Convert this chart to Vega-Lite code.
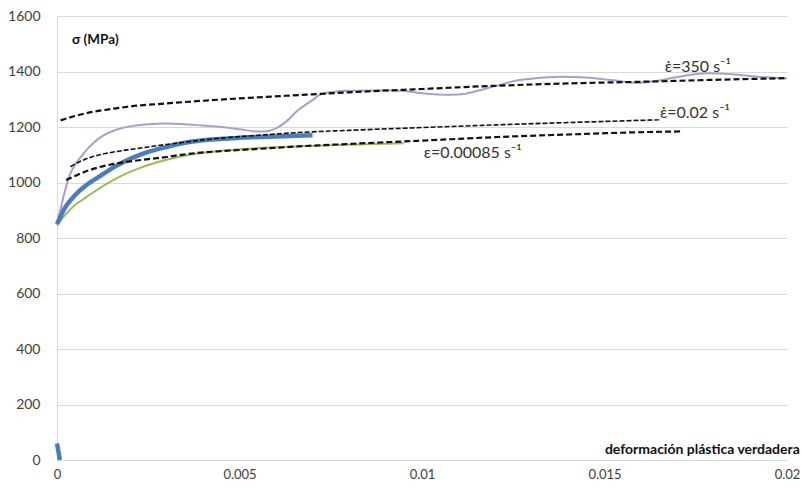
{
  "$schema": "https://vega.github.io/schema/vega-lite/v6.json",
  "width": 730,
  "height": 444,
  "autosize": "none",
  "padding": {"left": 57, "top": 16, "right": 15, "bottom": 29},
  "background": "white",
  "config": {
    "view": {"stroke": null},
    "font": "Lato",
    "axis": {"labelFont": "Lato", "labelColor": "#404040", "labelFontSize": 14, "ticks": false, "title": null}
  },
  "datasets": {
    "curves": [
      {"s": "blue0", "x": 0, "y": 60}, {"s": "blue0", "x": 0.00008, "y": 0},
      {"s": "blue", "x": 0, "y": 850}, {"s": "blue", "x": 0.0002, "y": 905}, {"s": "blue", "x": 0.0005, "y": 955}, {"s": "blue", "x": 0.0008, "y": 990}, {"s": "blue", "x": 0.0012, "y": 1025}, {"s": "blue", "x": 0.0016, "y": 1058}, {"s": "blue", "x": 0.002, "y": 1085}, {"s": "blue", "x": 0.0025, "y": 1110}, {"s": "blue", "x": 0.003, "y": 1128}, {"s": "blue", "x": 0.0035, "y": 1143}, {"s": "blue", "x": 0.004, "y": 1152}, {"s": "blue", "x": 0.005, "y": 1161}, {"s": "blue", "x": 0.006, "y": 1166}, {"s": "blue", "x": 0.007, "y": 1170},
      {"s": "green", "x": 0, "y": 845}, {"s": "green", "x": 0.0002, "y": 880}, {"s": "green", "x": 0.0005, "y": 920}, {"s": "green", "x": 0.0007, "y": 938}, {"s": "green", "x": 0.001, "y": 965}, {"s": "green", "x": 0.0016, "y": 1013}, {"s": "green", "x": 0.002, "y": 1038}, {"s": "green", "x": 0.0025, "y": 1063}, {"s": "green", "x": 0.003, "y": 1082}, {"s": "green", "x": 0.0036, "y": 1099}, {"s": "green", "x": 0.0045, "y": 1114}, {"s": "green", "x": 0.0055, "y": 1124}, {"s": "green", "x": 0.0065, "y": 1130}, {"s": "green", "x": 0.0075, "y": 1134}, {"s": "green", "x": 0.0085, "y": 1138}, {"s": "green", "x": 0.0095, "y": 1141},
      {"s": "purple", "x": 0, "y": 852}, {"s": "purple", "x": 0.0001, "y": 905}, {"s": "purple", "x": 0.0002, "y": 960}, {"s": "purple", "x": 0.00033, "y": 1021}, {"s": "purple", "x": 0.0005, "y": 1065}, {"s": "purple", "x": 0.0007, "y": 1100}, {"s": "purple", "x": 0.0009, "y": 1130}, {"s": "purple", "x": 0.00115, "y": 1159}, {"s": "purple", "x": 0.0016, "y": 1189}, {"s": "purple", "x": 0.002, "y": 1202}, {"s": "purple", "x": 0.0025, "y": 1210}, {"s": "purple", "x": 0.003, "y": 1213}, {"s": "purple", "x": 0.0035, "y": 1210}, {"s": "purple", "x": 0.004, "y": 1205}, {"s": "purple", "x": 0.0045, "y": 1200}, {"s": "purple", "x": 0.005, "y": 1192}, {"s": "purple", "x": 0.0055, "y": 1184}, {"s": "purple", "x": 0.0058, "y": 1186}, {"s": "purple", "x": 0.006, "y": 1195}, {"s": "purple", "x": 0.0063, "y": 1222}, {"s": "purple", "x": 0.0066, "y": 1260}, {"s": "purple", "x": 0.007, "y": 1297}, {"s": "purple", "x": 0.0072, "y": 1316}, {"s": "purple", "x": 0.0076, "y": 1327}, {"s": "purple", "x": 0.008, "y": 1331}, {"s": "purple", "x": 0.009, "y": 1332}, {"s": "purple", "x": 0.0095, "y": 1330}, {"s": "purple", "x": 0.01, "y": 1322}, {"s": "purple", "x": 0.0108, "y": 1316}, {"s": "purple", "x": 0.0112, "y": 1320}, {"s": "purple", "x": 0.0116, "y": 1333}, {"s": "purple", "x": 0.0121, "y": 1350}, {"s": "purple", "x": 0.0125, "y": 1365}, {"s": "purple", "x": 0.013, "y": 1374}, {"s": "purple", "x": 0.0138, "y": 1381}, {"s": "purple", "x": 0.0145, "y": 1378}, {"s": "purple", "x": 0.0152, "y": 1369}, {"s": "purple", "x": 0.0159, "y": 1359}, {"s": "purple", "x": 0.0165, "y": 1368}, {"s": "purple", "x": 0.0172, "y": 1385}, {"s": "purple", "x": 0.0178, "y": 1394}, {"s": "purple", "x": 0.0185, "y": 1390}, {"s": "purple", "x": 0.0192, "y": 1381}, {"s": "purple", "x": 0.02, "y": 1375},
      {"s": "d350", "x": 0.0001, "y": 1224}, {"s": "d350", "x": 0.0005, "y": 1240}, {"s": "d350", "x": 0.001, "y": 1255}, {"s": "d350", "x": 0.0015, "y": 1265}, {"s": "d350", "x": 0.002, "y": 1274}, {"s": "d350", "x": 0.003, "y": 1285}, {"s": "d350", "x": 0.0036, "y": 1291}, {"s": "d350", "x": 0.005, "y": 1303}, {"s": "d350", "x": 0.0066, "y": 1315}, {"s": "d350", "x": 0.008, "y": 1325}, {"s": "d350", "x": 0.01, "y": 1337}, {"s": "d350", "x": 0.0121, "y": 1349}, {"s": "d350", "x": 0.014, "y": 1357}, {"s": "d350", "x": 0.016, "y": 1363}, {"s": "d350", "x": 0.018, "y": 1370}, {"s": "d350", "x": 0.02, "y": 1376},
      {"s": "d002", "x": 0.00037, "y": 1057}, {"s": "d002", "x": 0.0007, "y": 1080}, {"s": "d002", "x": 0.00115, "y": 1099}, {"s": "d002", "x": 0.0016, "y": 1111}, {"s": "d002", "x": 0.00206, "y": 1120}, {"s": "d002", "x": 0.003, "y": 1137}, {"s": "d002", "x": 0.0036, "y": 1147}, {"s": "d002", "x": 0.0045, "y": 1160}, {"s": "d002", "x": 0.0055, "y": 1170}, {"s": "d002", "x": 0.0066, "y": 1180}, {"s": "d002", "x": 0.008, "y": 1188}, {"s": "d002", "x": 0.01, "y": 1198}, {"s": "d002", "x": 0.0121, "y": 1208}, {"s": "d002", "x": 0.014, "y": 1216}, {"s": "d002", "x": 0.0165, "y": 1226},
      {"s": "d00085", "x": 0.00025, "y": 1009}, {"s": "d00085", "x": 0.0006, "y": 1030}, {"s": "d00085", "x": 0.00115, "y": 1055}, {"s": "d00085", "x": 0.0016, "y": 1068}, {"s": "d00085", "x": 0.00206, "y": 1077}, {"s": "d00085", "x": 0.003, "y": 1092}, {"s": "d00085", "x": 0.0036, "y": 1103}, {"s": "d00085", "x": 0.0045, "y": 1113}, {"s": "d00085", "x": 0.0055, "y": 1121}, {"s": "d00085", "x": 0.0066, "y": 1130}, {"s": "d00085", "x": 0.008, "y": 1139}, {"s": "d00085", "x": 0.01, "y": 1151}, {"s": "d00085", "x": 0.0121, "y": 1164}, {"s": "d00085", "x": 0.014, "y": 1173}, {"s": "d00085", "x": 0.0162, "y": 1182}, {"s": "d00085", "x": 0.0171, "y": 1184}
    ],
    "rates": [
      {"t": "ε̇=350 s⁻¹", "x": 0.01665, "y": 1418},
      {"t": "ε̇=0.02 s⁻¹", "x": 0.01652, "y": 1252},
      {"t": "ε=0.00085 s⁻¹", "x": 0.01005, "y": 1106}
    ],
    "ytitle": [{"t": "σ (MPa)", "x": 0.00041, "y": 1514}],
    "xtitle": [{"t": "deformación plástica verdadera", "x": 0.02035, "y": 36}]
  },
  "encoding": {
    "x": {"field": "x", "type": "quantitative", "scale": {"domain": [0, 0.02], "nice": false, "zero": false},
      "axis": {"values": [0, 0.005, 0.01, 0.015, 0.02], "format": "~g", "grid": false, "domain": false, "labelPadding": 8, "labelFlush": false, "labelFontSize": 13}},
    "y": {"field": "y", "type": "quantitative", "scale": {"domain": [0, 1600], "nice": false},
      "axis": {"values": [0, 200, 400, 600, 800, 1000, 1200, 1400, 1600], "format": "d", "grid": true, "gridColor": "#d9d9d9", "gridWidth": 1, "domain": true, "domainColor": "#d9d9d9", "labelPadding": 17}}
  },
  "layer": [
    {
      "data": {"name": "curves"},
      "transform": [{"filter": "datum.s === 'green'"}],
      "mark": {"type": "line", "interpolate": "monotone", "color": "#9BBB59", "strokeWidth": 2}
    },
    {
      "data": {"name": "curves"},
      "transform": [{"filter": "datum.s === 'purple'"}],
      "mark": {"type": "line", "interpolate": "monotone", "color": "#A8A0C8", "strokeWidth": 2}
    },
    {
      "data": {"name": "curves"},
      "transform": [{"filter": "datum.s === 'blue' || datum.s === 'blue0'"}],
      "mark": {"type": "line", "interpolate": "monotone", "color": "#4A7DBA", "strokeWidth": 4.5},
      "encoding": {"detail": {"field": "s"}}
    },
    {
      "data": {"name": "curves"},
      "transform": [{"filter": "datum.s === 'd350' || datum.s === 'd00085'"}],
      "mark": {"type": "line", "interpolate": "monotone", "color": "#111111", "strokeWidth": 2.2, "strokeDash": [6, 3]},
      "encoding": {"detail": {"field": "s"}}
    },
    {
      "data": {"name": "curves"},
      "transform": [{"filter": "datum.s === 'd002'"}],
      "mark": {"type": "line", "interpolate": "monotone", "color": "#111111", "strokeWidth": 1.6, "strokeDash": [5, 2]}
    },
    {
      "data": {"name": "rates"},
      "mark": {"type": "text", "align": "left", "baseline": "middle", "color": "#333333", "font": "Lato", "fontSize": 16},
      "encoding": {"text": {"field": "t"}}
    },
    {
      "data": {"name": "ytitle"},
      "mark": {"type": "text", "align": "left", "baseline": "middle", "color": "#111111", "font": "Lato", "fontSize": 13.5, "fontWeight": "bold"},
      "encoding": {"text": {"field": "t"}}
    },
    {
      "data": {"name": "xtitle"},
      "mark": {"type": "text", "align": "right", "baseline": "middle", "color": "#111111", "font": "Lato", "fontSize": 14, "fontWeight": "bold"},
      "encoding": {"text": {"field": "t"}}
    }
  ]
}
